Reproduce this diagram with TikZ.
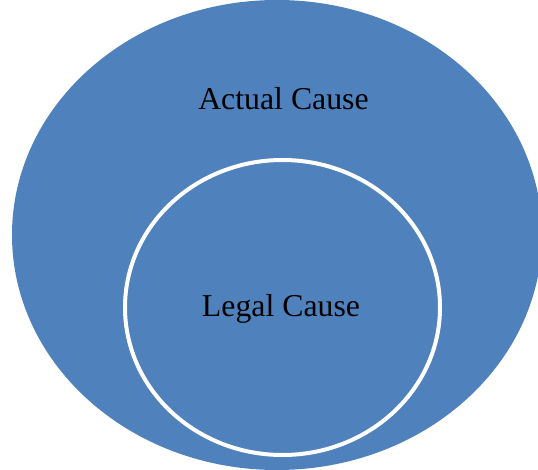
\documentclass[tikz,border=0pt]{standalone}
\usepackage{fontspec}
\setmainfont{Liberation Serif}
\definecolor{officeblue}{HTML}{4F81BD}
\tikzset{
  setshape/.style={draw=none, fill=officeblue},
  innerset/.style={draw=white, line width=4pt, fill=officeblue},
  setlabel/.style={font=\fontsize{31.8}{38}\selectfont, text=black, inner sep=0pt}
}
\begin{document}
\begin{tikzpicture}[x=1pt,y=-1pt]
\useasboundingbox (0,0) rectangle (538,470);
\begin{scope}
\clip (0,0) rectangle (538,470);
\path[setshape] (277,235) ellipse [x radius=265, y radius=235];
\path[innerset] (282.5,307.5) ellipse [x radius=157.5, y radius=147.5];
\end{scope}
\node[setlabel] (actual) at (283.5,98.5) {Actual Cause};
\node[setlabel] (legal) at (281,308.5) {Legal Cause};
\end{tikzpicture}
\end{document}
